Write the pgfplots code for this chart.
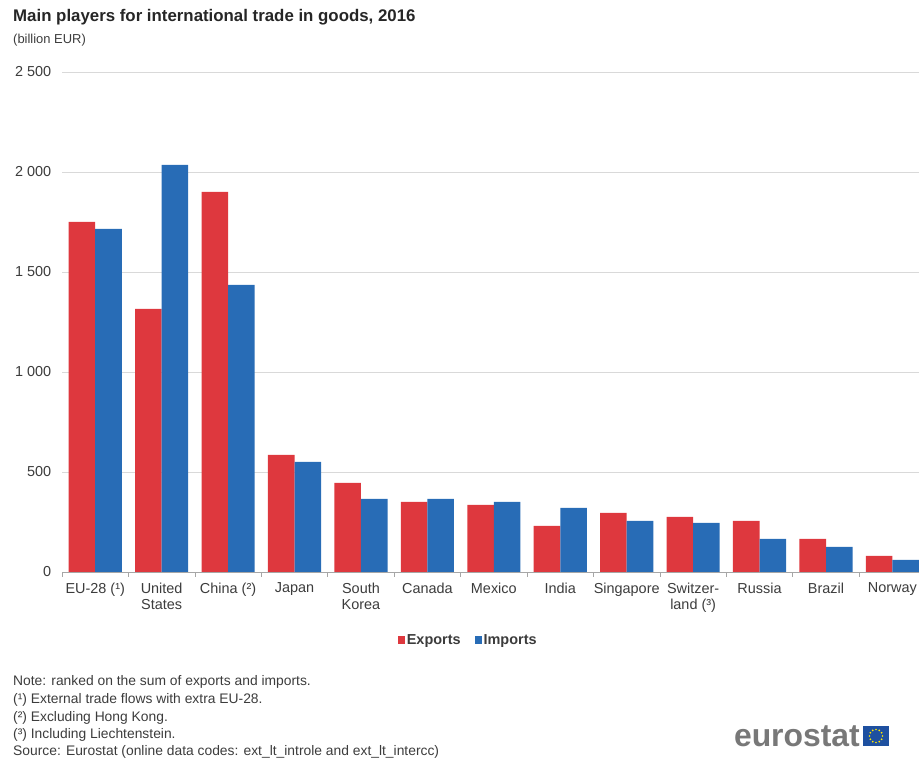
\documentclass[border=0pt]{standalone}
\usepackage{pgfplots}
\pgfplotsset{compat=1.18}
\usepackage{fontspec}
\setmainfont{Liberation Sans}
\definecolor{exred}{RGB}{222,56,62}
\definecolor{imblue}{RGB}{40,108,182}
\definecolor{txt}{RGB}{60,60,60}
\definecolor{logogray}{RGB}{120,120,120}
\definecolor{flagblue}{RGB}{30,80,160}
\pgfplotstableread{
x exp imp
0 1750 1715
1 1315 2035
2 1900 1435
3 585 550
4 445 365
5 350 365
6 335 350
7 230 320
8 295 255
9 275 245
10 255 165
11 165 125
12 80 60
}\trade
\begin{document}
\begin{tikzpicture}
\useasboundingbox (0,0) rectangle (919bp,760bp);
\node[anchor=west, inner sep=0, font=\bfseries\fontsize{16.9}{19}\selectfont, text=black!85] at (13bp,743bp) {Main players for international trade in goods, 2016};
\node[anchor=west, inner sep=0, font=\fontsize{13}{15}\selectfont, text=txt] at (13bp,720bp) {(billion EUR)};
\begin{axis}[
  at={(62bp,188bp)}, anchor=south west, scale only axis,
  width=857bp, height=500bp,
  xmin=-0.5, xmax=12.4, ymin=0, ymax=2500,
  ybar=0pt, bar width=0.4,
  axis x line*=bottom, axis y line*=left,
  y axis line style={draw=none},
  x axis line style={draw=gray!70, line width=0.8pt},
  ytick={0,500,...,2500},
  ymajorgrids, grid style={gray!30, line width=0.7pt},
  ytick style={draw=none},
  xtick={0,...,12},
  major x tick style={draw=none},
  minor xtick={-0.5,0.5,...,12.5},
  minor x tick style={draw=gray!70, line width=0.6pt},
  minor tick length=5bp,
  tick align=outside,
  xticklabels={EU-28 (¹), United\\States, China (²), Japan, South\\Korea, Canada, Mexico, India, Singapore, Switzer-\\land (³), Russia, Brazil, Norway},
  xticklabel style={align=center, font=\fontsize{14.5}{16.5}\selectfont, text=txt, yshift=-3bp},
  yticklabel style={font=\fontsize{14.5}{16}\selectfont, text=txt, xshift=-3bp},
  /pgf/number format/assume math mode=true,
  /pgf/number format/.cd, 1000 sep={\ }, /pgfplots/.cd,
  legend style={at={(rel axis cs:0.474,-0.136)}, anchor=center, draw=none, legend columns=2, font=\bfseries\fontsize{14.5}{16}\selectfont, text=txt, /tikz/every even column/.append style={column sep=12bp}},
  legend image code/.code={\fill[#1] (0bp,-3.5bp) rectangle (7bp,3.5bp);},
  clip=false,
]
\addplot[fill=exred, draw=none] table[x=x, y=exp] {\trade};
\addlegendentry{Exports}
\addplot[fill=imblue, draw=none] table[x=x, y=imp] {\trade};
\addlegendentry{Imports}
\end{axis}
\begin{scope}[font=\fontsize{13.9}{15}\selectfont, text=txt]
\node[anchor=base west, inner sep=0] at (13bp,74bp) {Note: ranked on the sum of exports and imports.};
\node[anchor=base west, inner sep=0] at (13bp,56.5bp) {(¹) External trade flows with extra EU-28.};
\node[anchor=base west, inner sep=0] at (13bp,39bp) {(²) Excluding Hong Kong.};
\node[anchor=base west, inner sep=0] at (13bp,21.5bp) {(³) Including Liechtenstein.};
\node[anchor=base west, inner sep=0] at (13bp,4.5bp) {Source: Eurostat (online data codes: ext\_lt\_introle and ext\_lt\_intercc)};
\end{scope}
\node[anchor=east, inner sep=0, font=\bfseries\fontsize{32}{33}\selectfont, text=logogray] at (860bp,24bp) {eurostat};
\fill[flagblue] (863bp,14bp) rectangle (889bp,34bp);
\begin{scope}[shift={(876bp,24bp)}]
\foreach \a in {0,30,...,330} {\fill[yellow!90!orange] (\a:6.5bp) circle (0.9bp);}
\end{scope}
\end{tikzpicture}
\end{document}
